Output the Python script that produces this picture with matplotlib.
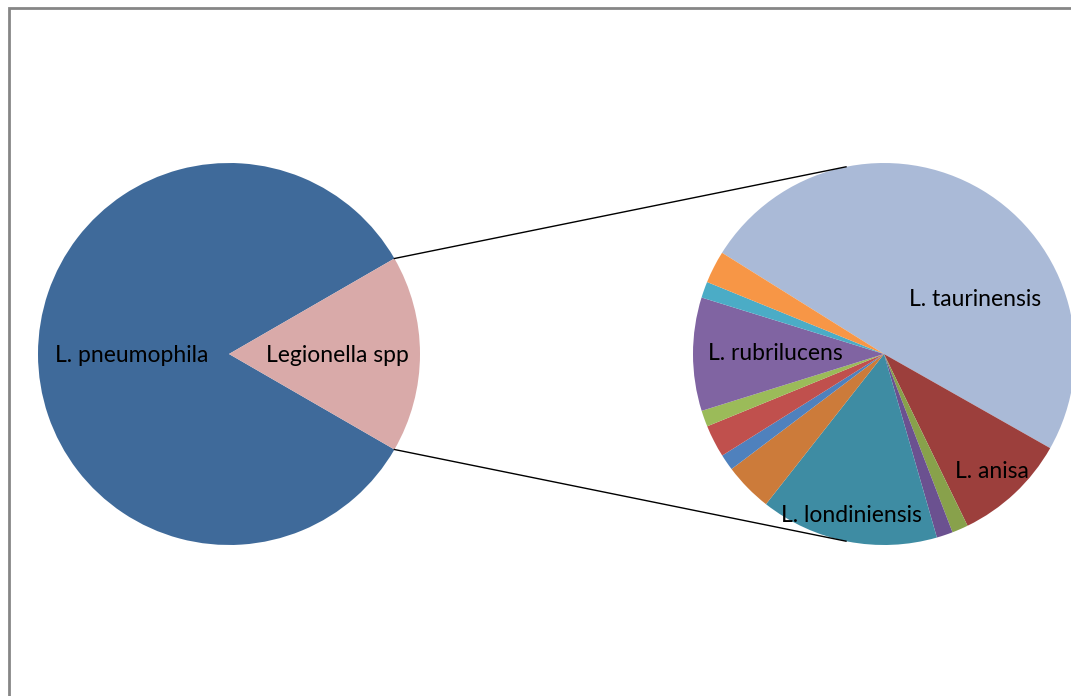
import math

import matplotlib
matplotlib.use("Agg")
import matplotlib.pyplot as plt
from matplotlib.patches import Rectangle

W, H = 1071, 696

# main split: L. pneumophila vs. the other Legionella species
main_labels = ["L. pneumophila", "Legionella spp"]
main_values = [365, 73]
main_colors = ["#3F6A9A", "#D9AAA9"]

# breakdown of "Legionella spp" (clockwise from L. taurinensis)
sub_labels = ["L. taurinensis", "L. anisa", "", "", "L. londiniensis", "", "",
              "", "", "L. rubrilucens", "", ""]
sub_values = [36, 7, 1, 1, 11, 3, 1, 2, 1, 7, 1, 2]
sub_colors = ["#AABAD7", "#9C3F3C", "#88A14B", "#6B5190", "#3E8CA3", "#CC7B3A",
              "#4F81BD", "#C0504D", "#9BBB59", "#8064A2", "#4BACC6", "#F79646"]

plt.rcParams["font.family"] = ["Lato", "DejaVu Sans"]

fig = plt.figure(figsize=(W / 100, H / 100), dpi=100)
ax = fig.add_axes([0, 0, 1, 1])

# chart frame
fig.patches.append(Rectangle((9 / W, -0.1), 1.2, (H - 8) / H + 0.1,
                             transform=fig.transFigure, fill=False,
                             edgecolor="#868686", linewidth=2))

R = 191
c1 = (229, H - 354)
c2 = (884, H - 354)

# share of the main pie that is exploded into the second pie
frac = main_values[1] / sum(main_values)
half = 180 * frac

ax.pie(main_values, colors=main_colors, center=c1, radius=R,
       startangle=half, counterclock=True,
       wedgeprops=dict(linewidth=0))
ax.pie(sub_values, colors=sub_colors, center=c2, radius=R,
       startangle=148, counterclock=False,
       wedgeprops=dict(linewidth=0))

# connector lines: from the split wedge edges, tangent to the second pie
for sign in (1, -1):
    a = math.radians(sign * half)
    px = c1[0] + R * math.cos(a)
    py = c1[1] + R * math.sin(a)
    dx, dy = px - c2[0], py - c2[1]
    d = math.hypot(dx, dy)
    base = math.atan2(dy, dx)
    off = math.acos(R / d)
    t = base - sign * off
    tx = c2[0] + R * math.cos(t)
    ty = c2[1] + R * math.sin(t)
    ax.plot([px, tx], [py, ty], color="black", linewidth=1)

fs = 16.5
ax.text(132, H - 355, main_labels[0], ha="center", va="center", fontsize=fs)
ax.text(337, H - 355, main_labels[1], ha="center", va="center", fontsize=fs)

sub_pos = {
    "L. taurinensis": (975, 299),
    "L. anisa": (992, 471),
    "L. londiniensis": (851, 515),
    "L. rubrilucens": (775, 354),
}
for name in sub_labels:
    if name:
        x, y = sub_pos[name]
        ax.text(x, H - y, name, ha="center", va="center", fontsize=fs)

ax.set_xlim(0, W)
ax.set_ylim(0, H)
ax.set_aspect("equal")
ax.axis("off")

fig.savefig("out.png", dpi=100)
